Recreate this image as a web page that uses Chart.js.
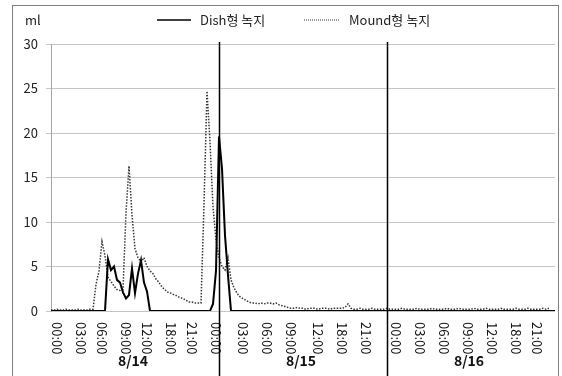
<!DOCTYPE html>
<html>
<head>
<meta charset="utf-8">
<script src="https://cdn.jsdelivr.net/npm/chart.js@4"></script>
<style>
    html, body { margin: 0; padding: 0; background: #fff; }
    #wrap { position: relative; width: 562px; height: 376px; }
</style>
</head>
<body>
<div id="wrap"><canvas id="runoffChart"></canvas></div>
<script>
// samples along the time axis (3 days, 56 samples per day)
const dayLabels = ['8/14', '8/15', '8/16'];
const samplesPerDay = 56;

// sample index where each time label sits, and its text
const tickIndex = [2, 10, 17, 25, 32, 40, 47, 55, 64, 72, 80, 89, 97, 105, 115, 123, 131, 139, 147, 155, 162];
const tickText = ['00:00', '03:00', '06:00', '09:00', '12:00', '18:00', '21:00',
    '00:00', '03:00', '06:00', '09:00', '12:00', '18:00', '21:00',
    '00:00', '03:00', '06:00', '09:00', '12:00', '18:00', '21:00'];

const yTicks = [0, 5, 10, 15, 20, 25, 30];

// Dish형 녹지 (ml)
const dishValues = [
    0, 0, 0, 0, 0, 0, 0, 0, 0, 0, 0, 0, 0, 0, 0, 0, 0, 0, 0,
    5.8, 4.6, 5.0, 3.5, 3.2, 2.1, 1.4, 1.8, 4.8, 2.0, 4.2, 5.7, 3.2, 2.2,
    0, 0, 0, 0, 0, 0, 0, 0, 0, 0, 0, 0, 0, 0, 0, 0, 0, 0, 0, 0, 0,
    0.8, 4.5, 19.6, 16.0, 8.5, 4.0,
    0, 0, 0, 0, 0, 0, 0, 0, 0, 0, 0, 0, 0, 0, 0, 0, 0, 0, 0, 0,
    0, 0, 0, 0, 0, 0, 0, 0, 0, 0, 0, 0, 0, 0, 0, 0, 0, 0, 0, 0,
    0, 0, 0, 0, 0, 0, 0, 0, 0, 0, 0, 0, 0, 0, 0, 0, 0, 0, 0, 0,
    0, 0, 0, 0, 0, 0, 0, 0, 0, 0, 0, 0, 0, 0, 0, 0, 0, 0, 0, 0,
    0, 0, 0, 0, 0, 0, 0, 0, 0, 0, 0, 0, 0, 0, 0, 0, 0, 0, 0, 0,
    0, 0, 0, 0, 0, 0, 0, 0, 0
];

// Mound형 녹지 (ml)
const moundValues = [
    0.1, 0.1, 0.2, 0.1, 0.1, 0.2, 0.1, 0.1, 0.1, 0.2, 0.1, 0.1, 0.1, 0.2, 0.2,
    3.0, 4.5, 7.8, 6.2, 3.8, 3.3, 2.8, 2.4, 2.3, 2.4, 11.0, 16.3,
    10.8, 7.0, 6.0, 5.5, 6.0, 5.0, 4.5, 4.2, 3.6, 3.2, 2.7, 2.4, 2.1, 2.0, 1.8, 1.7,
    1.5, 1.4, 1.2, 1.0, 1.0, 0.9, 0.9, 0.9,
    12.0, 24.7, 19.0, 11.7, 8.0, 6.0, 5.0, 4.6, 6.0, 3.5, 2.6, 2.0, 1.6, 1.4, 1.2, 1.0, 0.9,
    0.9, 0.8, 0.9, 0.8, 0.9, 0.9, 0.8, 0.9, 0.7, 0.6, 0.5, 0.4,
    0.3, 0.3, 0.4, 0.3, 0.3, 0.2, 0.3, 0.3, 0.3, 0.2, 0.3, 0.3, 0.3, 0.2, 0.3, 0.3, 0.3, 0.3, 0.4,
    0.8,
    0.3, 0.2, 0.2, 0.3, 0.2, 0.2, 0.2, 0.3, 0.2, 0.2, 0.2, 0.2, 0.3, 0.2, 0.2, 0.2, 0.2,
    0.3, 0.2, 0.2, 0.2, 0.2, 0.3, 0.2, 0.2, 0.2, 0.2, 0.3, 0.2, 0.2, 0.2, 0.2, 0.3,
    0.2, 0.2, 0.2, 0.3, 0.2, 0.2, 0.2, 0.2, 0.3, 0.2, 0.2, 0.2, 0.3, 0.2, 0.2, 0.2, 0.2,
    0.3, 0.2, 0.2, 0.2, 0.2, 0.3, 0.2, 0.2, 0.2, 0.3, 0.2, 0.2, 0.2, 0.2, 0.3, 0.2, 0.3
];

const FONT = '"Noto Sans CJK KR", "Noto Sans", sans-serif';

const toPoints = (arr) => arr.map((v, i) => ({ x: i, y: v }));

// draws frame, legend, unit label, rotated time labels, day labels and day separators
const decorPlugin = {
    id: 'decor',
    afterDraw(chart) {
        const ctx = chart.ctx;
        const area = chart.chartArea;
        const xs = chart.scales.x;
        ctx.save();

        // outer frame
        ctx.strokeStyle = '#7f7f7f';
        ctx.lineWidth = 1;
        ctx.strokeRect(12.5, 5.5, 546, 380);

        // unit
        ctx.fillStyle = '#222';
        ctx.font = '13px ' + FONT;
        ctx.textAlign = 'left';
        ctx.textBaseline = 'middle';
        ctx.fillText('ml', 25, 20);

        // legend
        ctx.strokeStyle = '#000';
        ctx.lineWidth = 1.5;
        ctx.beginPath();
        ctx.moveTo(157, 20);
        ctx.lineTo(191, 20);
        ctx.stroke();
        ctx.fillText('Dish형 녹지', 200, 20);
        ctx.strokeStyle = '#333';
        ctx.lineWidth = 1;
        ctx.setLineDash([1, 1]);
        ctx.beginPath();
        ctx.moveTo(304, 20);
        ctx.lineTo(340, 20);
        ctx.stroke();
        ctx.setLineDash([]);
        ctx.fillText('Mound형 녹지', 349, 20);

        // time labels, reading top to bottom
        ctx.fillStyle = '#111';
        ctx.font = '13px ' + FONT;
        tickIndex.forEach((idx, k) => {
            const px = xs.getPixelForValue(idx);
            ctx.save();
            ctx.translate(px, area.bottom + 11);
            ctx.rotate(Math.PI / 2);
            ctx.textAlign = 'left';
            ctx.textBaseline = 'middle';
            ctx.fillText(tickText[k], 0, 0);
            ctx.restore();
        });

        // day labels
        ctx.font = 'bold 14px ' + FONT;
        ctx.textAlign = 'center';
        ctx.textBaseline = 'middle';
        dayLabels.forEach((d, k) => {
            const a = xs.getPixelForValue(k * samplesPerDay);
            const b = xs.getPixelForValue((k + 1) * samplesPerDay);
            ctx.fillText(d, (a + b) / 2 - 2, area.bottom + 50);
        });

        // day separators
        ctx.strokeStyle = '#000';
        ctx.lineWidth = 1.5;
        for (let k = 1; k < dayLabels.length; k++) {
            const px = Math.round(xs.getPixelForValue(k * samplesPerDay)) + 0.5;
            ctx.beginPath();
            ctx.moveTo(px, area.top - 2);
            ctx.lineTo(px, chart.height);
            ctx.stroke();
        }
        ctx.restore();
    }
};

new Chart(document.getElementById('runoffChart'), {
    type: 'line',
    data: {
        datasets: [
            {
                label: 'Dish형 녹지',
                data: toPoints(dishValues),
                borderColor: '#000',
                borderWidth: 2,
                pointRadius: 0,
                tension: 0
            },
            {
                label: 'Mound형 녹지',
                data: toPoints(moundValues),
                borderColor: '#333',
                borderWidth: 1.5,
                borderDash: [1.5, 1.5],
                pointRadius: 0,
                tension: 0
            }
        ]
    },
    options: {
        responsive: true,
        maintainAspectRatio: false,
        animation: false,
        layout: {
            padding: { top: 44, right: 7, bottom: 65, left: 0 }
        },
        plugins: {
            legend: { display: false },
            tooltip: { enabled: false }
        },
        scales: {
            x: {
                type: 'linear',
                min: 0,
                max: samplesPerDay * dayLabels.length,
                display: false
            },
            y: {
                min: 0,
                max: 30,
                afterBuildTicks: (scale) => {
                    scale.ticks = yTicks.map(v => ({ value: v }));
                },
                afterFit: (scale) => {
                    scale.width = 51;
                },
                ticks: {
                    color: '#222',
                    font: { size: 13, family: FONT },
                    padding: 8
                },
                grid: {
                    color: '#c4c4c4',
                    lineWidth: 1,
                    tickLength: 5
                },
                border: { color: '#a6a6a6' }
            }
        }
    },
    plugins: [decorPlugin]
});
</script>
</body>
</html>
